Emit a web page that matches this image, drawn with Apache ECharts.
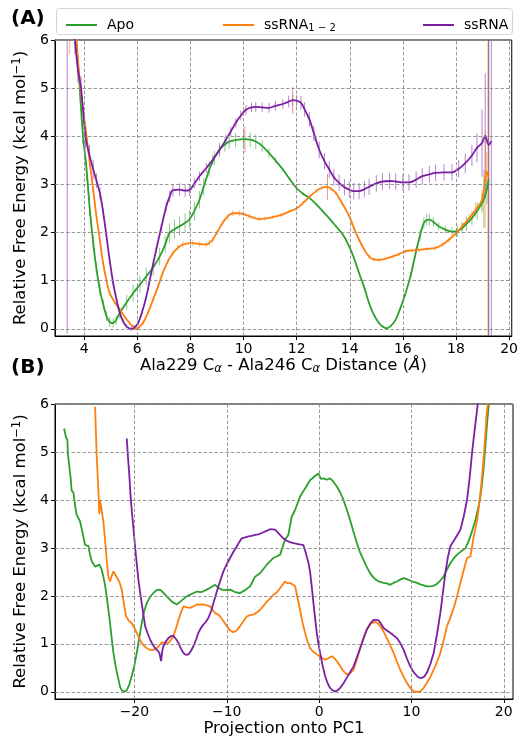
<!DOCTYPE html>
<html>
<head>
<meta charset="utf-8">
<script src="https://cdn.jsdelivr.net/npm/echarts@6/dist/echarts.min.js"></script>
<style>html,body{margin:0;padding:0;background:#fff;}#c{width:521px;height:740px;}</style>
</head>
<body>
<div id="c"></div>
<script>
// ---------- DATA ----------
const seriesNames = ['Apo', 'ssRNA1-2', 'ssRNA'];
const seriesColors = ['#2ca02c', '#ff7f0e', '#7b1fa2'];

// Panel A: [distance, free energy, error]
const aApo = [[3.62,6.5,0.25],[3.72,5.8,0.25],[3.84,4.95,0.25],[3.94,4.1,0.25],[4.09,3.3,0.22],[4.2,2.55,0.2],[4.34,1.78,0.15],[4.46,1.25,0.12],[4.59,0.81,0.12],[4.72,0.5,0.1],
[4.84,0.26,0.1],[4.96,0.14,0.1],[5.09,0.12,0.1],[5.2,0.18,0.1],[5.34,0.33,0.12],[5.6,0.55,0.15],[5.84,0.74,0.18],[6.1,0.92,0.18],[6.34,1.09,0.18],[6.6,1.28,0.18],
[6.84,1.5,0.18],[7.05,1.75,0.18],[7.21,1.99,0.2],[7.4,2.07,0.2],[7.59,2.13,0.2],[7.8,2.2,0.2],[7.96,2.27,0.2],[8.15,2.45,0.2],[8.34,2.68,0.18],[8.5,2.95,0.18],
[8.71,3.31,0.15],[8.9,3.55,0.15],[9.09,3.72,0.15],[9.3,3.83,0.15],[9.46,3.89,0.15],[9.7,3.92,0.15],[10.0,3.94,0.15],[10.25,3.93,0.15],[10.46,3.89,0.15],[10.7,3.8,0.12],
[10.96,3.65,0.1],[11.2,3.5,0.06],[11.48,3.31,0.04],[11.75,3.1,0.03],[12.0,2.92,0.03],[12.25,2.8,0.03],[12.48,2.72,0.02],[12.75,2.58,0.02],[12.98,2.44,0.02],[13.25,2.28,0.02],
[13.48,2.13,0.02],[13.75,1.95,0.02],[13.98,1.71,0.02],[14.15,1.48,0.02],[14.35,1.16,0.02],[14.55,0.85,0.02],[14.73,0.53,0.02],[14.9,0.3,0.02],[15.1,0.12,0.02],[15.25,0.04,0.02],
[15.38,0.01,0.02],[15.55,0.06,0.02],[15.73,0.19,0.02],[15.9,0.42,0.03],[16.1,0.74,0.04],[16.3,1.12,0.06],[16.48,1.57,0.1],[16.65,1.95,0.12],[16.79,2.2,0.12],[16.9,2.26,0.12],
[17.0,2.27,0.12],[17.15,2.22,0.1],[17.35,2.13,0.08],[17.6,2.06,0.08],[17.85,2.02,0.1],[18.05,2.03,0.12],[18.23,2.09,0.12],[18.4,2.18,0.15],[18.6,2.3,0.15],[18.8,2.45,0.18],
[18.98,2.61,0.2],[19.05,2.7,0.6],[19.16,2.89,0.3],[19.23,3.1,3.3]];

const aRna12 = [[3.45,8.0,2.3],[3.6,6.6,0.2],[3.72,5.9,0.15],[3.86,5.0,0.12],[4.09,4.0,0.1],[4.21,3.44,0.08],[4.34,2.88,0.06],[4.46,2.34,0.05],[4.6,1.8,0.05],[4.71,1.37,0.05],
[4.84,1.0,0.05],[4.96,0.74,0.05],[5.15,0.55,0.04],[5.34,0.4,0.04],[5.52,0.25,0.04],[5.71,0.12,0.04],[5.85,0.04,0.04],[5.96,0.0,0.04],[6.08,0.04,0.04],[6.21,0.12,0.04],
[6.4,0.33,0.04],[6.59,0.6,0.04],[6.78,0.88,0.04],[6.96,1.16,0.04],[7.15,1.4,0.04],[7.34,1.57,0.05],[7.52,1.68,0.06],[7.71,1.75,0.06],[8.09,1.78,0.06],[8.35,1.76,0.06],
[8.59,1.75,0.06],[8.72,1.79,0.06],[8.84,1.85,0.05],[9.0,2.0,0.05],[9.21,2.2,0.05],[9.4,2.33,0.06],[9.59,2.4,0.06],[9.84,2.4,0.06],[10.21,2.34,0.05],[10.59,2.28,0.05],
[10.8,2.29,0.04],[11.09,2.32,0.04],[11.4,2.36,0.04],[11.73,2.44,0.04],[12.0,2.5,0.04],[12.23,2.61,0.04],[12.5,2.75,0.04],[12.73,2.86,0.04],[12.95,2.93,0.05],[13.16,2.95,0.06],
[13.3,2.91,0.05],[13.48,2.82,0.04],[13.7,2.62,0.04],[13.98,2.34,0.04],[14.15,2.1,0.04],[14.35,1.85,0.04],[14.55,1.64,0.04],[14.73,1.5,0.04],[14.9,1.44,0.04],[15.1,1.43,0.04],
[15.35,1.46,0.04],[15.6,1.5,0.04],[15.85,1.55,0.04],[16.1,1.61,0.04],[16.35,1.63,0.04],[16.6,1.64,0.04],[16.9,1.66,0.04],[17.23,1.68,0.04],[17.5,1.75,0.05],[17.73,1.85,0.05],
[18.0,1.98,0.06],[18.23,2.13,0.08],[18.5,2.3,0.1],[18.73,2.47,0.15],[18.98,2.68,0.2],[19.1,3.1,1.0],[19.16,3.27,0.4],[19.2,3.2,3.4],[19.23,3.17,0.1]];

const aRna = [[3.36,7.5,7.6],[3.55,6.6,0.3],[3.65,6.0,0.3],[3.76,5.4,0.28],[3.88,5.0,0.25],[4.05,4.0,0.25],[4.2,3.6,0.22],[4.34,3.31,0.2],[4.46,3.08,0.15],[4.59,2.82,0.12],
[4.72,2.4,0.1],[4.84,1.92,0.08],[4.96,1.42,0.06],[5.09,0.95,0.05],[5.22,0.6,0.05],[5.34,0.33,0.05],[5.47,0.15,0.05],[5.59,0.05,0.05],[5.78,0.0,0.05],[5.9,0.03,0.05],
[6.03,0.12,0.05],[6.18,0.35,0.05],[6.34,0.67,0.05],[6.52,1.15,0.05],[6.71,1.64,0.06],[6.9,2.1,0.08],[7.09,2.54,0.1],[7.22,2.75,0.12],[7.34,2.88,0.13],[7.59,2.89,0.13],
[7.8,2.87,0.13],[7.96,2.88,0.12],[8.15,3.02,0.1],[8.34,3.17,0.1],[8.6,3.34,0.1],[8.84,3.51,0.1],[9.1,3.72,0.1],[9.34,3.93,0.1],[9.52,4.1,0.1],[9.71,4.28,0.1],
[9.9,4.43,0.1],[10.09,4.55,0.1],[10.3,4.6,0.1],[10.46,4.61,0.1],[10.7,4.6,0.1],[10.96,4.59,0.1],[11.2,4.63,0.1],[11.48,4.67,0.1],[11.7,4.72,0.12],[11.85,4.75,0.12],
[12.0,4.74,0.12],[12.16,4.7,0.14],[12.3,4.56,0.15],[12.48,4.35,0.15],[12.65,4.06,0.16],[12.85,3.72,0.17],[13.05,3.48,0.17],[13.23,3.31,0.17],[13.4,3.15,0.17],[13.6,3.03,0.17],
[13.8,2.94,0.17],[13.98,2.89,0.17],[14.15,2.86,0.17],[14.35,2.86,0.17],[14.55,2.9,0.17],[14.73,2.95,0.17],[15.0,3.02,0.17],[15.23,3.06,0.17],[15.5,3.07,0.17],[15.73,3.06,0.17],
[16.0,3.04,0.17],[16.23,3.04,0.17],[16.5,3.1,0.17],[16.73,3.17,0.17],[17.0,3.21,0.17],[17.23,3.24,0.17],[17.55,3.25,0.17],[17.85,3.25,0.17],[18.1,3.32,0.18],[18.35,3.44,0.2],
[18.6,3.6,0.22],[18.79,3.76,0.3],[18.98,3.86,0.7],[19.1,4.01,1.3],[19.23,3.82,4.5],[19.33,3.9,4.5]];

// isolated large error bars (drawn in light red)
const aSpikes = [[10.05,3.93,0.27],[11.85,4.75,0.28],[13.16,2.95,0.27]];

// Panel B: [PC1 projection, free energy]
const bApo = [[-27.62,5.49],[-27.4,5.3],[-27.26,5.25],[-27.2,4.95],[-27.05,4.7],[-26.9,4.45],[-26.8,4.2],[-26.6,4.15],[-26.4,3.85],[-26.25,3.69],
[-25.88,3.55],[-25.6,3.3],[-25.34,3.06],[-24.98,3.04],[-24.8,2.85],[-24.62,2.72],[-24.26,2.61],[-23.79,2.65],[-23.55,2.55],[-23.36,2.4],
[-23.18,2.22],[-23.0,1.99],[-22.82,1.72],[-22.64,1.43],[-22.45,1.1],[-22.27,0.81],[-22.0,0.5],[-21.73,0.26],[-21.55,0.1],[-21.37,0.03],
[-21.1,0.0],[-20.83,0.03],[-20.55,0.15],[-20.29,0.33],[-20.0,0.55],[-19.75,0.81],[-19.48,1.12],[-19.21,1.43],[-18.95,1.68],[-18.66,1.85],
[-18.3,1.98],[-17.94,2.06],[-17.6,2.12],[-17.22,2.13],[-16.85,2.06],[-16.5,1.99],[-15.95,1.88],[-15.42,1.82],[-14.9,1.9],[-14.33,1.99],
[-13.8,2.04],[-13.25,2.09],[-12.7,2.08],[-12.17,2.13],[-11.7,2.18],[-11.26,2.23],[-10.9,2.17],[-10.54,2.13],[-10.1,2.12],[-9.64,2.13],
[-9.1,2.08],[-8.56,2.06],[-8.0,2.12],[-7.47,2.2],[-6.93,2.4],[-6.39,2.47],[-5.67,2.65],[-4.95,2.79],[-4.59,2.82],[-4.22,2.86],
[-4.05,2.89],[-3.69,3.17],[-3.33,3.27],[-2.97,3.65],[-2.6,3.79],[-2.06,4.07],[-1.52,4.24],[-0.98,4.41],[-0.43,4.5],[-0.07,4.55],
[0.2,4.44],[0.47,4.45],[0.8,4.42],[1.19,4.45],[1.55,4.38],[1.92,4.28],[2.3,4.15],[2.64,4.0],[3.0,3.8],[3.36,3.58],
[3.7,3.35],[4.09,3.1],[4.45,2.9],[4.81,2.75],[5.17,2.6],[5.53,2.47],[5.9,2.38],[6.26,2.32],[6.62,2.29],[6.98,2.27],
[7.34,2.26],[7.7,2.23],[8.05,2.27],[8.43,2.3],[8.8,2.34],[9.15,2.37],[9.5,2.35],[9.87,2.32],[10.24,2.29],[10.6,2.27],
[10.96,2.24],[11.32,2.22],[11.68,2.2],[12.04,2.2],[12.4,2.21],[12.77,2.25],[13.13,2.32],[13.49,2.4],[13.85,2.55],[14.21,2.68],
[14.58,2.78],[14.94,2.86],[15.4,2.93],[15.84,2.99],[16.1,3.1],[16.38,3.24],[16.65,3.4],[16.93,3.58],[17.2,3.8],[17.47,4.07],
[17.65,4.35],[17.83,4.69],[18.0,5.1],[18.19,5.59],[18.37,5.97],[18.45,6.2]];

const bRna12 = [[-24.26,5.94],[-24.15,5.3],[-24.08,4.9],[-23.98,4.5],[-23.9,4.2],[-23.8,3.7],[-23.72,4.0],[-23.54,3.96],[-23.36,3.55],[-23.18,3.17],
[-23.0,2.75],[-22.82,2.4],[-22.64,2.3],[-22.45,2.42],[-22.27,2.51],[-22.1,2.45],[-21.91,2.47],[-21.65,2.3],[-21.37,2.13],[-21.15,1.85],
[-20.9,1.57],[-20.6,1.48],[-20.29,1.43],[-20.0,1.33],[-19.75,1.23],[-19.48,1.12],[-19.21,1.02],[-18.93,0.95],[-18.66,0.91],[-18.4,0.88],
[-18.12,0.87],[-17.85,0.88],[-17.58,0.91],[-17.3,0.97],[-17.04,1.03],[-16.7,1.02],[-16.32,1.02],[-16.05,1.08],[-15.78,1.16],[-15.5,1.32],
[-15.23,1.5],[-14.95,1.66],[-14.69,1.78],[-14.3,1.76],[-13.97,1.75],[-13.6,1.78],[-13.25,1.82],[-12.9,1.82],[-12.53,1.82],[-12.17,1.8],
[-11.81,1.78],[-11.5,1.7],[-11.26,1.64],[-11.0,1.62],[-10.72,1.57],[-10.35,1.47],[-10.0,1.37],[-9.64,1.28],[-9.28,1.24],[-8.92,1.28],
[-8.56,1.37],[-8.2,1.47],[-7.84,1.57],[-7.48,1.6],[-7.12,1.61],[-6.75,1.65],[-6.39,1.71],[-6.03,1.79],[-5.67,1.88],[-5.32,1.94],
[-4.95,2.02],[-4.59,2.07],[-4.22,2.16],[-4.05,2.2],[-3.69,2.3],[-3.42,2.26],[-3.15,2.27],[-2.88,2.24],[-2.6,2.2],[-2.33,1.95],
[-2.06,1.71],[-1.8,1.45],[-1.52,1.23],[-1.25,1.05],[-0.98,0.91],[-0.6,0.83],[-0.25,0.78],[0.2,0.72],[0.65,0.67],[1.0,0.7],
[1.37,0.74],[1.65,0.7],[1.92,0.64],[2.3,0.53],[2.64,0.43],[2.9,0.38],[3.18,0.36],[3.45,0.4],[3.73,0.46],[4.1,0.68],
[4.45,0.91],[4.8,1.12],[5.17,1.3],[5.6,1.42],[6.08,1.46],[6.35,1.43],[6.62,1.37],[7.0,1.25],[7.34,1.12],[7.7,0.97],
[8.07,0.81],[8.43,0.63],[8.79,0.46],[9.15,0.31],[9.51,0.19],[9.87,0.08],[10.24,0.01],[10.6,0.0],[10.96,0.01],[11.32,0.08],
[11.68,0.19],[12.05,0.31],[12.41,0.46],[12.77,0.62],[13.13,0.81],[13.5,1.08],[13.85,1.37],[14.12,1.5],[14.39,1.64],[14.66,1.8],
[14.94,1.99],[15.2,2.2],[15.48,2.4],[15.75,2.6],[16.02,2.79],[16.2,2.8],[16.38,2.82],[16.55,3.0],[16.75,3.24],[16.93,3.4],
[17.11,3.58],[17.3,3.85],[17.47,4.14],[17.65,4.5],[17.83,4.9],[18.0,5.35],[18.12,5.73],[18.26,6.0],[18.35,6.3]];

const bRna = [[-20.83,5.28],[-20.7,4.9],[-20.54,4.48],[-20.42,4.1],[-20.29,3.79],[-20.1,3.4],[-19.93,3.03],[-19.75,2.68],[-19.57,2.34],[-19.4,2.1],
[-19.21,1.85],[-19.02,1.6],[-18.84,1.37],[-18.57,1.22],[-18.3,1.09],[-18.03,0.99],[-17.76,0.91],[-17.5,0.86],[-17.29,0.81],[-17.11,0.64],
[-16.98,0.85],[-16.86,0.95],[-16.6,1.05],[-16.32,1.12],[-16.05,1.16],[-15.78,1.17],[-15.5,1.1],[-15.23,1.02],[-14.96,0.9],[-14.69,0.81],
[-14.42,0.77],[-14.15,0.78],[-13.88,0.85],[-13.61,0.95],[-13.34,1.08],[-13.07,1.23],[-12.8,1.33],[-12.53,1.4],[-12.26,1.46],[-11.99,1.54],
[-11.7,1.68],[-11.44,1.85],[-11.17,2.03],[-10.9,2.2],[-10.63,2.36],[-10.36,2.51],[-10.0,2.66],[-9.64,2.79],[-9.28,2.92],[-8.92,3.03],
[-8.65,3.12],[-8.38,3.2],[-8.0,3.22],[-7.65,3.24],[-7.3,3.25],[-6.93,3.27],[-6.57,3.28],[-6.21,3.31],[-5.76,3.35],[-5.31,3.39],
[-4.77,3.38],[-4.5,3.33],[-4.23,3.27],[-3.87,3.2],[-3.51,3.15],[-3.15,3.12],[-2.78,3.1],[-2.25,3.08],[-1.7,3.06],[-1.52,2.95],
[-1.34,2.82],[-1.16,2.7],[-0.98,2.51],[-0.8,2.2],[-0.61,1.85],[-0.43,1.53],[-0.25,1.23],[-0.07,1.0],[0.11,0.81],[0.38,0.55],
[0.65,0.33],[0.92,0.18],[1.19,0.08],[1.46,0.03],[1.74,0.01],[2.0,0.03],[2.28,0.08],[2.64,0.18],[3.0,0.29],[3.36,0.41],
[3.73,0.53],[4.1,0.72],[4.45,0.91],[4.8,1.1],[5.17,1.3],[5.53,1.42],[5.9,1.5],[6.17,1.5],[6.44,1.49],[6.7,1.42],
[6.98,1.33],[7.34,1.28],[7.7,1.23],[8.05,1.18],[8.43,1.12],[8.8,1.01],[9.15,0.88],[9.5,0.7],[9.87,0.53],[10.24,0.41],
[10.6,0.33],[10.87,0.29],[11.14,0.29],[11.4,0.32],[11.68,0.4],[12.05,0.58],[12.41,0.81],[12.77,1.2],[13.13,1.64],[13.4,2.05],
[13.67,2.47],[13.94,2.8],[14.21,3.03],[14.49,3.12],[14.76,3.2],[15.03,3.29],[15.3,3.38],[15.66,3.65],[16.02,4.0],[16.3,4.45],
[16.56,4.97],[16.75,5.3],[16.93,5.59],[17.18,6.0],[17.3,6.2]];

const aXTicks = [4, 6, 8, 10, 12, 14, 16, 18, 20];
const bXTicks = [-20, -10, 0, 10, 20];
const yTicks = [0, 1, 2, 3, 4, 5, 6];

// ---------- CHART ----------
const FONT = 'DejaVu Sans';
const chart = echarts.init(document.getElementById('c'), null, {renderer: 'canvas'});
const fmt = v => String(v).replace('-', '\u2212');

function xAxisCfg(gridIndex, min, max, ticks, nameRich, name, gap) {
  return {
    type: 'value', gridIndex, min, max, name, nameLocation: 'middle', nameGap: gap,
    nameTextStyle: {fontFamily: FONT, fontSize: 16.5, color: '#000', rich: nameRich},
    axisLine: {show: true, onZero: false, lineStyle: {color: '#000', width: 1}},
    axisTick: {show: true, length: 4, customValues: ticks, lineStyle: {color: '#000'}},
    axisLabel: {customValues: ticks, formatter: fmt, fontFamily: FONT, fontSize: 14, color: '#000', margin: 6},
    splitLine: {show: false}
  };
}
function yAxisCfg(gridIndex) {
  return {
    type: 'value', gridIndex, min: -0.15, max: 6,
    name: 'Relative Free Energy (kcal mol{sup|\u22121})', nameLocation: 'middle', nameGap: 18,
    nameTextStyle: {fontFamily: FONT, fontSize: 16.5, color: '#000',
      rich: {sup: {fontFamily: FONT, fontSize: 11.5, color: '#000', verticalAlign: 'top', padding: [0, 0, 7, 0]}}},
    axisLine: {show: true, onZero: false, lineStyle: {color: '#000', width: 1}},
    axisTick: {show: true, length: 4, customValues: yTicks, lineStyle: {color: '#000'}},
    axisLabel: {customValues: yTicks, fontFamily: FONT, fontSize: 14, color: '#000', margin: 6},
    splitLine: {show: false}
  };
}
function gridLines(xi, xt) {
  return {
    type: 'line', xAxisIndex: xi, yAxisIndex: xi, data: [], silent: true, z: 1,
    markLine: {
      silent: true, symbol: 'none', label: {show: false}, animation: false,
      lineStyle: {type: [3.5, 2], color: '#8c8c8c', width: 0.9},
      data: xt.map(v => ({xAxis: v})).concat(yTicks.map(v => ({yAxis: v})))
    }
  };
}
function errSeries(data, color, opacity, xi) {
  return {
    type: 'custom', xAxisIndex: xi, yAxisIndex: xi, clip: true, silent: true, z: 2,
    data: data, encode: {x: 0, y: 1},
    renderItem: (params, api) => {
      const x = api.value(0), y = api.value(1), e = api.value(2);
      const p1 = api.coord([x, y - e]);
      const p2 = api.coord([x, y + e]);
      return {type: 'line', shape: {x1: p1[0], y1: p1[1], x2: p2[0], y2: p2[1]},
        style: {stroke: color, lineWidth: 1, opacity: opacity}};
    }
  };
}
function lineSeries(name, data, color, xi, smooth) {
  return {
    type: 'line', name, xAxisIndex: xi, yAxisIndex: xi, data: data.map(d => [d[0], d[1]]),
    showSymbol: false, symbol: 'none', smooth: smooth, clip: true, z: 3,
    lineStyle: {color, width: 1.8}, itemStyle: {color}
  };
}

const aSets = [aApo, aRna12, aRna];
const bSets = [bApo, bRna12, bRna];
const series = [gridLines(0, aXTicks), gridLines(1, bXTicks)];
aSets.forEach((d, i) => series.push(errSeries(d, seriesColors[i], 0.55, 0)));
series.push(errSeries(aSpikes, '#e8706a', 0.75, 0));
aSets.forEach((d, i) => series.push(lineSeries(seriesNames[i], d, seriesColors[i], 0, 0.35)));
bSets.forEach((d, i) => series.push(lineSeries(seriesNames[i], d, seriesColors[i], 1, false)));

const legendLefts = [61, 218, 418];
const legends = seriesNames.map((n, i) => ({
  show: true, data: [n], left: legendLefts[i], top: 13, orient: 'horizontal',
  icon: 'rect', itemWidth: 31, itemHeight: 2, selectedMode: false,
  formatter: name => name === 'ssRNA1-2' ? 'ssRNA{sub|1 \u2212 2}' : name,
  textStyle: {fontFamily: FONT, fontSize: 14, color: '#000', padding: [0, 0, 0, 5],
    rich: {sub: {fontFamily: FONT, fontSize: 10, color: '#000', verticalAlign: 'bottom', padding: [7, 0, 0, 0]}}}
}));

chart.setOption({
  animation: false,
  backgroundColor: '#fff',
  legend: legends,
  graphic: [
    {type: 'rect', left: 56, top: 8, z: -1, shape: {width: 456, height: 26, r: 3},
      style: {fill: '#fff', stroke: '#d4d4d4', lineWidth: 1}},
    {type: 'text', left: 11, top: 9, style: {text: '(A)', font: 'bold 20px "DejaVu Sans"', fill: '#000'}},
    {type: 'text', left: 11, top: 358, style: {text: '(B)', font: 'bold 20px "DejaVu Sans"', fill: '#000'}}
  ],
  grid: [
    {left: 55, right: 8, top: 40, height: 296, show: true, borderColor: '#000', borderWidth: 1, containLabel: false},
    {left: 55, right: 8, top: 404, height: 295, show: true, borderColor: '#000', borderWidth: 1, containLabel: false}
  ],
  xAxis: [
    xAxisCfg(0, 2.9, 20.1, aXTicks,
      {sub: {fontFamily: FONT, fontSize: 11.5, color: '#000', verticalAlign: 'bottom', padding: [8, 0, 0, 0], fontStyle: 'italic'},
       it: {fontFamily: FONT, fontSize: 16.5, color: '#000', fontStyle: 'italic'}},
      'Ala229 C{sub|\u03b1} - Ala246 C{sub|\u03b1} Distance ({it|\u00c5})', 17),
    xAxisCfg(1, -28.6, 21.0, bXTicks, {}, 'Projection onto PC1', 19)
  ],
  yAxis: [yAxisCfg(0), yAxisCfg(1)],
  series
});
</script>
</body>
</html>
